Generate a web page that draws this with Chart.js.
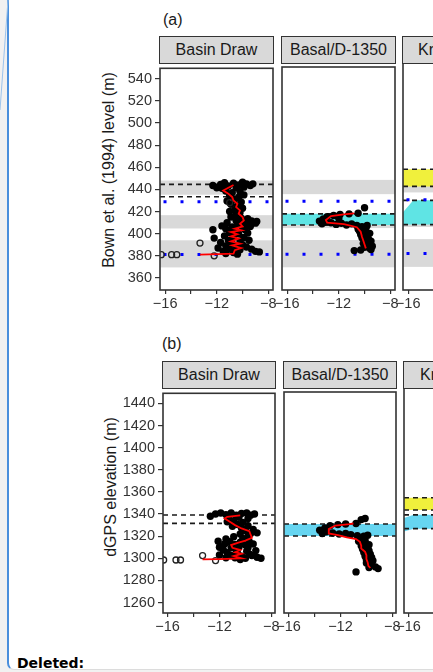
<!DOCTYPE html>
<html>
<head>
<meta charset="utf-8">
<script src="https://cdn.jsdelivr.net/npm/chart.js@4.4.1/dist/chart.umd.min.js"></script>
<style>
  html, body { margin: 0; padding: 0; width: 433px; height: 672px; overflow: hidden; background: #f1f1f1; }
  body { position: relative; font-family: "Liberation Sans", Arial, sans-serif; }
  #frame { position: absolute; left: 7px; top: -20px; width: 520px; height: 689px; background: #fff;
           border-left: 2px solid #4a8fdc; border-bottom: 1px solid #dcdcdc; border-bottom-left-radius: 7px; }
  #slant { position: absolute; left: 0; top: 0; }
  canvas { position: absolute; }
  .strip { position: absolute; box-sizing: border-box; height: 28px; background: #d9d9d9; border: 1.5px solid #333;
           font-size: 16px; color: #1a1a1a; text-align: center; line-height: 25px; white-space: nowrap; overflow: hidden; }
  .tag { position: absolute; font-size: 16px; color: #1a1a1a; line-height: 18px; }
  .ytitle { position: absolute; font-size: 16px; color: #1a1a1a; white-space: nowrap; line-height: 18px;
            transform: translate(-50%, -50%) rotate(-90deg); }
  #deleted { position: absolute; left: 17px; top: 655px; font: bold 14px "DejaVu Sans", Verdana, sans-serif; color: #000; }
</style>
</head>
<body>
<div id="frame"></div>
<svg id="slant" width="10" height="120"><line x1="8" y1="0" x2="0" y2="110" stroke="#9cc3eb" stroke-width="1"/></svg>

<div class="tag" style="left:163px; top:11px;">(a)</div>
<div class="strip" style="left:159px; top:36px; width:115px;">Basin Draw</div>
<div class="strip" style="left:281px; top:36px; width:115px;">Basal/D-1350</div>
<div class="strip" style="left:402px; top:36px; width:115px; text-align:left; padding-left:15px;">Kraus</div>
<div class="ytitle" style="left:109px; top:170px;">Bown et al. (1994) level (m)</div>

<div class="tag" style="left:162px; top:335px;">(b)</div>
<div class="strip" style="left:162px; top:361px; width:114px;">Basin Draw</div>
<div class="strip" style="left:283px; top:361px; width:114px;">Basal/D-1350</div>
<div class="strip" style="left:403px; top:361px; width:114px; text-align:left; padding-left:16px;">Kraus</div>
<div class="ytitle" style="left:111px; top:487px;">dGPS elevation (m)</div>

<div id="deleted">Deleted:</div>

<script>
// axis ticks
const xTickValues = [-16, -14, -12, -10, -8];
const xLabelValues = [-16, -12, -8];
const levelTicks = [360, 380, 400, 420, 440, 460, 480, 500, 520, 540];
const elevationTicks = [1260, 1280, 1300, 1320, 1340, 1360, 1380, 1400, 1420, 1440];
const xRangeA = [-16.4, -7.64];
const xRangeB = [-16.35, -7.72];
const levelRange = [349.1, 549.4];
const elevationRange = [1250.6, 1449.1];

// (a) Basin Draw - d13C vs Bown et al. level
const basinDrawA_d13C = [-12.3, -12.0, -11.7, -11.4, -11.1, -10.7, -10.3, -10.0, -9.7, -9.4, -9.2, -10.5, -11.6, -9.9,
  -11.3, -10.8, -10.2, -11.0, -10.3, -9.9, -10.6, -11.2, -10.1, -10.9, -10.4, -10.0, -10.6, -11.0, -10.2, -10.5,
  -10.9, -10.1, -9.6, -10.5, -9.3, -10.0, -11.2, -9.7, -10.4, -9.0, -11.6, -10.8, -10.0, -9.4, -12.3, -11.3, -10.6, -9.8,
  -11.0, -10.3, -9.6, -11.4, -10.7, -9.9, -12.2, -11.1, -10.2, -9.5, -11.7, -10.8, -10.0, -11.3, -10.5, -9.7, -11.9, -11.0,
  -10.2, -9.3, -11.5, -10.7, -9.0, -8.7, -10.4, -11.3, -8.9];
const basinDrawA_level = [443.5, 441.5, 444.5, 446, 443, 445.5, 444, 446.5, 445, 443.5, 445, 441.5, 441, 442,
  438.5, 437, 438, 434.5, 433, 435, 431, 429.5, 428.5, 426.5, 425, 423, 421.5, 420, 419, 417,
  415, 414, 413.5, 412, 411.5, 410.5, 410, 409, 408, 409.5, 407, 406, 405.5, 406.5, 403.5, 404.5, 403, 403.5,
  401, 400, 400.5, 398, 397, 396.5, 396, 394, 393.5, 394, 392, 391, 390, 389, 388.5, 388, 387, 386,
  385.5, 386, 384, 383, 384, 383.5, 381.5, 382, 411];
const basinDrawA_openD13C = [-16.3, -15.5, -15.1, -13.3, -12.2, -11.0];
const basinDrawA_openLevel = [381, 381, 381, 391.5, 380, 428];
const basinDrawA_meanD13C = [-13.3, -11.9, -10.7, -10.6, -10.1, -10.8, -10.2, -10.9, -10.3, -10.9, -10.4, -10.9, -10.1, -10.6,
  -10.0, -10.2, -9.9, -10.0, -10.3, -10.2, -10.5, -10.4, -10.7, -10.8, -11.1, -11.5, -10.7];
const basinDrawA_meanLevel = [381, 381.5, 382, 385, 387, 389.5, 391, 393, 395.5, 397.5, 399.5, 401.5, 403, 404.5,
  406.5, 409, 412, 415, 418, 421, 424, 427, 430, 433, 436, 439, 444];

// (a) Basal/D-1350
const basalA_d13C = [-10.0, -12.0, -10.5, -11.2, -11.9, -12.4, -12.9, -13.2, -13.5, -13.0, -12.6, -13.3, -12.2, -11.8, -11.4,
  -11.0, -10.6, -10.2, -9.8, -10.5, -9.9, -10.4, -10.0, -9.6, -10.3, -9.8, -10.2, -9.7, -10.0, -9.5, -10.1, -9.7, -9.4,
  -10.0, -9.6, -10.3, -9.5, -10.8];
const basalA_level = [423, 413.5, 418, 417.5, 417, 416, 415, 413, 411, 410, 409.5, 408.5, 408, 409, 407.5,
  408.5, 407, 406, 407, 404, 404.5, 402, 401, 400, 399, 397.5, 396, 395, 393.5, 393, 391, 390, 388.5,
  387.5, 386.5, 385, 385.5, 384.5];
const basalA_meanD13C = [-10.8, -11.6, -12.6, -13.0, -12.9, -11.6, -10.6, -10.3, -10.2, -10.1, -10.0, -9.9];
const basalA_meanLevel = [418, 417, 415.5, 412, 409.6, 408.2, 405.5, 401.5, 397, 393.5, 390, 386.5];

// (a) reference levels
const grayBandsA = [[369.5, 394], [404.7, 416.7], [435.2, 448]];
const blueLevelsA = [381.2, 428.8];
const basinDrawA_dashed = [444.5, 433.3];
const basalA_dashed = [417.5, 407.5];
const krausA_dashed = [455.7, 440.5, 428.2, 406.8];
const basalA_cyanX = [-16.4, -7.64];
const basalA_cyanLow = [407.5, 407.5];
const basalA_cyanHigh = [417.5, 417.5];
const krausA_cyanX = [-16.4, -15.6, -7.64];
const krausA_cyanLow = [407, 407, 407];
const krausA_cyanHigh = [417.6, 428.2, 428.2];
const krausA_yellowX = [-16.4, -7.64];
const krausA_yellowLow = [440.5, 440.5];
const krausA_yellowHigh = [455.7, 455.7];

// (b) Basin Draw - d13C vs dGPS elevation
const basinDrawB_d13C = [-12.7, -12.3, -11.9, -11.5, -11.1, -10.7, -10.3, -9.9, -9.6, -9.3, -10.5, -11.3, -9.8, -10.9,
  -11.4, -10.2, -10.6, -11.0, -9.8, -10.3, -9.4, -10.0, -9.1, -9.6, -10.4, -9.8, -10.9, -10.2, -11.5,
  -12.1, -11.2, -10.4, -9.7, -11.6, -10.8, -10.0, -9.4, -12.0, -11.1, -10.5, -9.8, -11.7, -10.7, -9.9, -9.2,
  -11.4, -10.6, -9.7, -12.0, -11.1, -10.3, -9.5, -10.8, -10.0, -9.1, -8.8, -11.5, -10.4];
const basinDrawB_elev = [1338, 1340, 1341, 1339.5, 1341, 1339, 1340.5, 1341, 1339, 1340, 1337, 1336.5, 1336, 1334,
  1333, 1332.5, 1330.5, 1329, 1329.5, 1327.5, 1326, 1325, 1323, 1322.5, 1322, 1320, 1319.5, 1318, 1317.5,
  1315.5, 1315, 1314.5, 1315, 1313, 1312.5, 1312, 1313, 1310, 1309.5, 1310, 1309.5, 1307.5, 1307, 1306.5, 1307,
  1305, 1304.5, 1304, 1303, 1302.5, 1302, 1302.5, 1300.5, 1300, 1301, 1300, 1300.5, 1299];
const basinDrawB_openD13C = [-16.3, -15.35, -15.0, -13.3, -12.3];
const basinDrawB_openElev = [1298.5, 1298.5, 1298.5, 1302.5, 1298];
const basinDrawB_meanD13C = [-13.3, -12.0, -10.3, -10.9, -10.3, -10.8, -10.4, -11.0, -11.1, -10.6, -10.0, -9.5, -9.6, -9.7,
  -10.3, -10.8, -11.2, -11.6, -11.4, -10.4];
const basinDrawB_meanElev = [1299, 1299.3, 1300, 1302, 1304, 1305.5, 1307.5, 1309.5, 1312, 1314, 1316, 1318.5, 1321.5, 1324.5,
  1327, 1330, 1333, 1336, 1337.5, 1338.8];

// (b) Basal/D-1350
const basalB_d13C = [-10.1, -10.4, -10.8, -11.6, -12.2, -12.8, -13.2, -13.6, -13.1, -12.6, -13.4, -12.1, -11.6, -11.2, -10.7,
  -10.2, -9.9, -10.5, -10.1, -10.6, -10.2, -9.8, -10.4, -9.9, -10.3, -9.8, -10.2, -9.7, -10.1, -9.6, -10.0, -9.5,
  -10.0, -9.6, -9.3, -9.8, -9.1, -10.8];
const basalB_elev = [1335.5, 1334.5, 1331, 1330.5, 1330, 1329, 1327, 1325, 1323.5, 1322.5, 1322, 1321.5, 1322, 1321, 1320,
  1319.5, 1320.5, 1317.5, 1316, 1315, 1313, 1312, 1311, 1309.5, 1308, 1306.5, 1305, 1303.5, 1301.5, 1300.5, 1298.5, 1297.5,
  1295.5, 1294, 1292, 1291.5, 1290.5, 1287.5];
const basalB_meanD13C = [-11.0, -11.3, -12.4, -12.9, -12.9, -12.2, -11.5, -10.8, -10.5, -10.4, -10.4, -10.1, -10.0, -10.0,
  -9.9, -9.85, -9.7];
const basalB_meanElev = [1331, 1330.5, 1329, 1326, 1322, 1320.5, 1318.5, 1317, 1314.5, 1311, 1308.5, 1305.5, 1302.5, 1299,
  1296, 1293, 1291];

// (b) reference levels
const basinDrawB_dashed = [1339.2, 1331.6];
const basalB_dashed = [1330.5, 1319.8];
const krausB_dashed = [1352.3, 1341.5, 1337.2, 1325];
const basalB_cyanX = [-16.35, -7.72];
const basalB_cyanLow = [1319.8, 1319.8];
const basalB_cyanHigh = [1330.5, 1330.5];
const krausB_cyanX = [-16.35, -15.6, -7.72];
const krausB_cyanLow = [1322.6, 1325, 1325];
const krausB_cyanHigh = [1334.4, 1337.2, 1337.2];
const krausB_yellowX = [-16.35, -7.72];
const krausB_yellowLow = [1341.5, 1341.5];
const krausB_yellowHigh = [1352.3, 1352.3];

const CYAN_A = '#5fe4e4';
const CYAN_B = '#66d5f1';
const YELLOW = '#f0f03c';

Chart.defaults.font.family = '"Liberation Sans", Arial, Helvetica, sans-serif';
Chart.defaults.color = '#333';
Chart.defaults.animation = false;

// background pieces of each panel, keyed by canvas id
const decorById = {};

// draws bands, ribbons and reference lines under the points, frame on top
const panelDecor = {
  id: 'panelDecor',
  beforeDatasetsDraw(chart) {
    const d = decorById[chart.canvas.id];
    if (!d) return;
    const { ctx, chartArea: a } = chart;
    const x = chart.scales.x, y = chart.scales.y;
    ctx.save();
    ctx.beginPath();
    ctx.rect(a.left, a.top, a.right - a.left, a.bottom - a.top);
    ctx.clip();

    (d.grayBands || []).forEach(band => {
      const top = y.getPixelForValue(band[1]);
      const bottom = y.getPixelForValue(band[0]);
      ctx.fillStyle = '#d9d9d9';
      ctx.fillRect(a.left, top, a.right - a.left, bottom - top);
    });

    (d.ribbons || []).forEach(r => {
      ctx.fillStyle = r.color;
      ctx.beginPath();
      r.x.forEach((xv, i) => {
        const px = x.getPixelForValue(xv), py = y.getPixelForValue(r.high[i]);
        if (i === 0) ctx.moveTo(px, py); else ctx.lineTo(px, py);
      });
      for (let i = r.x.length - 1; i >= 0; i--) {
        ctx.lineTo(x.getPixelForValue(r.x[i]), y.getPixelForValue(r.low[i]));
      }
      ctx.closePath();
      ctx.fill();
    });

    ctx.strokeStyle = '#1a1a1a';
    ctx.lineWidth = 1.6;
    ctx.setLineDash([5, 4]);
    (d.dashed || []).forEach(v => {
      const py = y.getPixelForValue(v);
      ctx.beginPath();
      ctx.moveTo(a.left, py);
      ctx.lineTo(a.right, py);
      ctx.stroke();
    });

    ctx.strokeStyle = '#0000ff';
    ctx.lineWidth = 3;
    ctx.setLineDash([3, 14]);
    ctx.lineDashOffset = 13.5;
    (d.dotted || []).forEach(v => {
      const py = y.getPixelForValue(v);
      ctx.beginPath();
      ctx.moveTo(a.left, py);
      ctx.lineTo(a.right, py);
      ctx.stroke();
    });
    ctx.restore();
  },
  afterDraw(chart) {
    const { ctx, chartArea: a } = chart;
    ctx.save();
    ctx.strokeStyle = '#333';
    ctx.lineWidth = 1.6;
    ctx.strokeRect(a.left, a.top, a.right - a.left, a.bottom - a.top);
    ctx.restore();
  }
};

function toPoints(xs, ys) {
  return xs.map((v, i) => ({ x: v, y: ys[i] }));
}

function ribbon(xs, low, high, color) {
  return { x: xs, low: low, high: high, color: color };
}

function xScale(range) {
  return {
    type: 'linear',
    min: range[0],
    max: range[1],
    afterBuildTicks: s => { s.ticks = xTickValues.map(v => ({ value: v })); },
    afterFit: s => { s.height = 26; s.paddingLeft = 0; s.paddingRight = 0; },
    grid: { drawOnChartArea: false, drawTicks: true, tickLength: 4, color: '#333', lineWidth: 1.2 },
    border: { display: false },
    ticks: {
      padding: 1, color: '#333', font: { size: 14.5 }, maxRotation: 0, autoSkip: false,
      callback: v => xLabelValues.includes(v) ? '\u2212' + Math.abs(v) : ''
    }
  };
}

function yScale(range, tickValues, show) {
  return {
    type: 'linear',
    display: show,
    min: range[0],
    max: range[1],
    afterBuildTicks: s => { s.ticks = tickValues.map(v => ({ value: v })); },
    afterFit: s => { if (show) s.width = 60; s.paddingTop = 0; s.paddingBottom = 0; },
    grid: { drawOnChartArea: false, drawTicks: true, tickLength: 5, color: '#333', lineWidth: 1.2 },
    border: { display: false },
    ticks: { padding: 3, color: '#333', font: { size: 14.5 }, autoSkip: false, callback: v => String(v) }
  };
}

function makeDatasets(p) {
  const sets = [];
  if (p.mean) {
    sets.push({ data: toPoints(p.mean[0], p.mean[1]), showLine: true, borderColor: '#ff0000',
      borderWidth: 1.8, pointRadius: 0, tension: 0 });
  }
  if (p.open) {
    sets.push({ data: toPoints(p.open[0], p.open[1]), pointRadius: 3,
      pointBackgroundColor: 'rgba(255,255,255,0)', pointBorderColor: '#222', pointBorderWidth: 1.3 });
  }
  if (p.dots) {
    sets.push({ data: toPoints(p.dots[0], p.dots[1]), pointRadius: 3.7,
      pointBackgroundColor: '#000', pointBorderWidth: 0 });
  }
  return sets;
}

const panels = [
  { id: 'a1', left: 100, top: 63, width: 187, height: 253, yAxis: true, xRange: xRangeA, yRange: levelRange, yTicks: levelTicks,
    dots: [basinDrawA_d13C, basinDrawA_level], open: [basinDrawA_openD13C, basinDrawA_openLevel],
    mean: [basinDrawA_meanD13C, basinDrawA_meanLevel],
    decor: { grayBands: grayBandsA, dotted: blueLevelsA, dashed: basinDrawA_dashed } },
  { id: 'a2', left: 270, top: 63, width: 139, height: 253, yAxis: false, xRange: xRangeA, yRange: levelRange, yTicks: levelTicks,
    dots: [basalA_d13C, basalA_level], mean: [basalA_meanD13C, basalA_meanLevel],
    decor: { grayBands: grayBandsA, dotted: blueLevelsA, dashed: basalA_dashed,
      ribbons: [ribbon(basalA_cyanX, basalA_cyanLow, basalA_cyanHigh, CYAN_A)] } },
  { id: 'a3', left: 391, top: 63, width: 139, height: 253, yAxis: false, xRange: xRangeA, yRange: levelRange, yTicks: levelTicks,
    decor: { grayBands: grayBandsA, dotted: blueLevelsA, dashed: krausA_dashed,
      ribbons: [ribbon(krausA_cyanX, krausA_cyanLow, krausA_cyanHigh, CYAN_A),
                ribbon(krausA_yellowX, krausA_yellowLow, krausA_yellowHigh, YELLOW)] } },
  { id: 'b1', left: 103, top: 388, width: 186, height: 251, yAxis: true, xRange: xRangeB, yRange: elevationRange, yTicks: elevationTicks,
    dots: [basinDrawB_d13C, basinDrawB_elev], open: [basinDrawB_openD13C, basinDrawB_openElev],
    mean: [basinDrawB_meanD13C, basinDrawB_meanElev],
    decor: { dashed: basinDrawB_dashed } },
  { id: 'b2', left: 272, top: 388, width: 138, height: 251, yAxis: false, xRange: xRangeB, yRange: elevationRange, yTicks: elevationTicks,
    dots: [basalB_d13C, basalB_elev], mean: [basalB_meanD13C, basalB_meanElev],
    decor: { dashed: basalB_dashed, ribbons: [ribbon(basalB_cyanX, basalB_cyanLow, basalB_cyanHigh, CYAN_B)] } },
  { id: 'b3', left: 392, top: 388, width: 138, height: 251, yAxis: false, xRange: xRangeB, yRange: elevationRange, yTicks: elevationTicks,
    decor: { dashed: krausB_dashed,
      ribbons: [ribbon(krausB_cyanX, krausB_cyanLow, krausB_cyanHigh, CYAN_B),
                ribbon(krausB_yellowX, krausB_yellowLow, krausB_yellowHigh, YELLOW)] } }
];

function drawPanel(p) {
  const canvas = document.createElement('canvas');
  canvas.id = 'panel-' + p.id;
  canvas.width = p.width;
  canvas.height = p.height;
  canvas.style.left = p.left + 'px';
  canvas.style.top = p.top + 'px';
  canvas.style.width = p.width + 'px';
  canvas.style.height = p.height + 'px';
  document.body.appendChild(canvas);
  decorById[canvas.id] = p.decor;

  new Chart(canvas.getContext('2d'), {
    type: 'scatter',
    data: { datasets: makeDatasets(p) },
    options: {
      responsive: false,
      devicePixelRatio: 1,
      events: [],
      layout: { padding: { left: p.yAxis ? 0 : 12, right: 14, top: 0, bottom: 0 } },
      scales: { x: xScale(p.xRange), y: yScale(p.yRange, p.yTicks, p.yAxis) },
      plugins: { legend: { display: false }, tooltip: { enabled: false } }
    },
    plugins: [panelDecor]
  });
}

panels.forEach(drawPanel);
</script>
</body>
</html>
